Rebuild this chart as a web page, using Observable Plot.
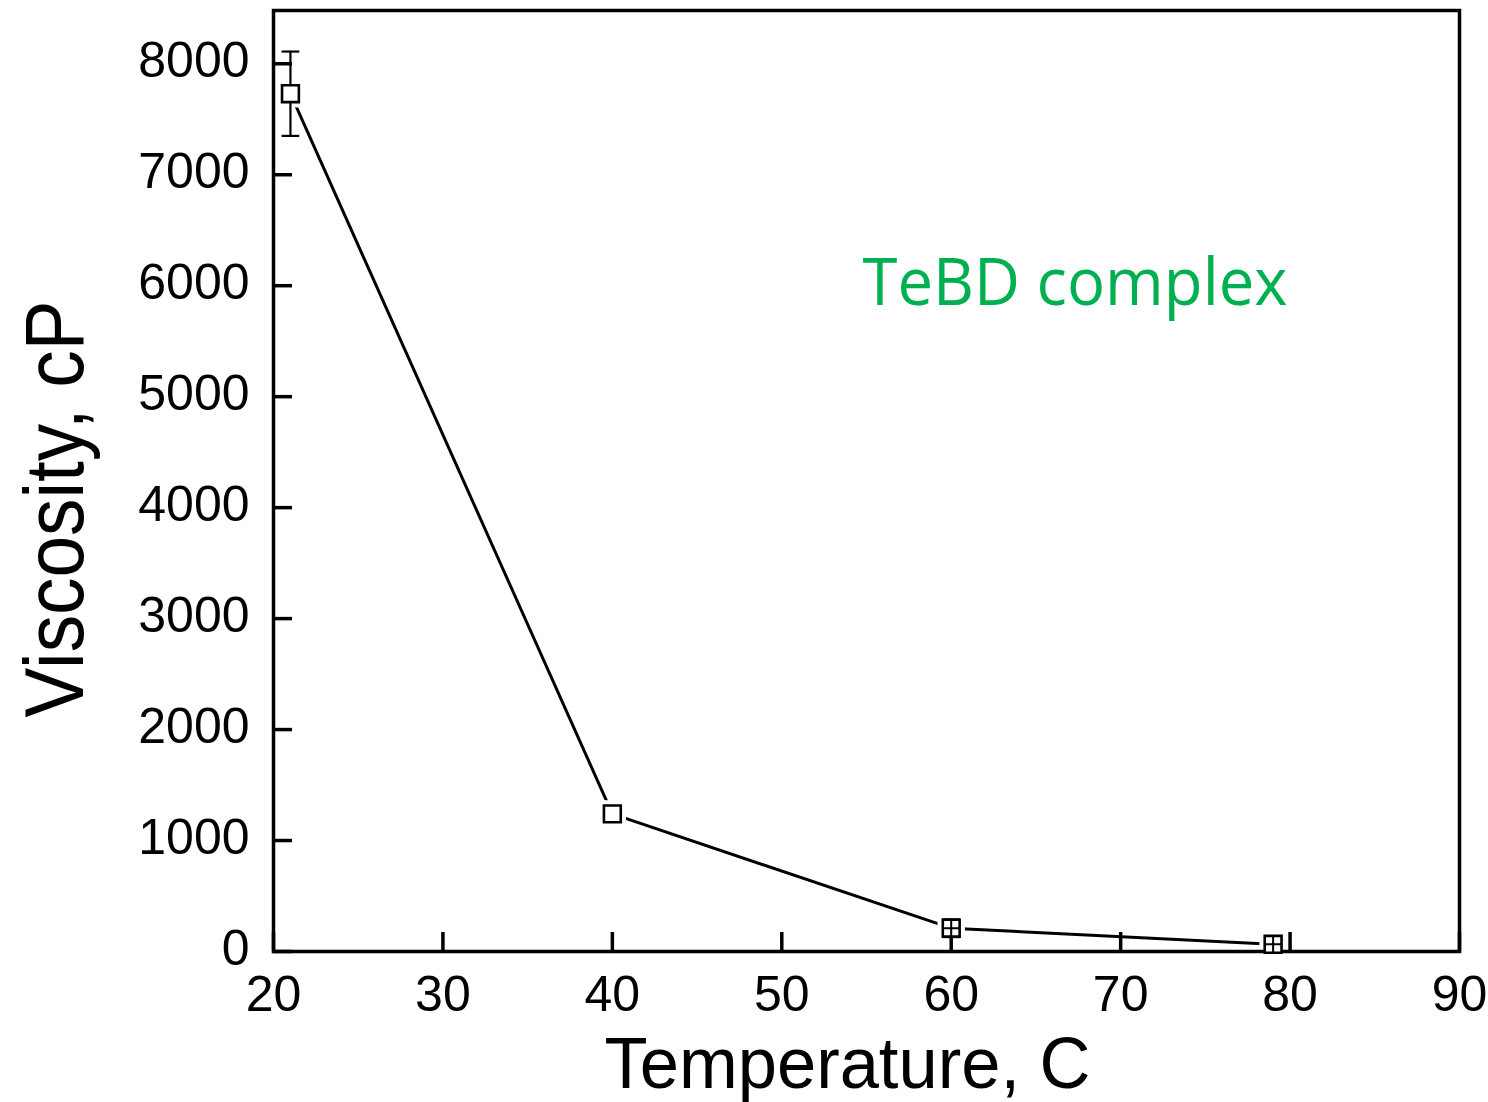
<!DOCTYPE html>
<html><head><meta charset="utf-8">
<script src="https://cdn.jsdelivr.net/npm/d3@7"></script>
<script src="https://cdn.jsdelivr.net/npm/@observablehq/plot@0.6"></script>
<style>html,body{margin:0;padding:0;background:#fff;overflow:hidden}</style>
</head><body><div id="chart"></div>
<script>
// ---- data ----
const temperature = [21, 40, 60, 79];
const viscosity = [7730, 1240, 210, 65];
const viscosityErr = [380, 0, 80, 70];
const xTicks = [20, 30, 40, 50, 60, 70, 80, 90];
const yTicks = [0, 1000, 2000, 3000, 4000, 5000, 6000, 7000, 8000];
const xLabel = "Temperature, C";
const yLabel = "Viscosity, cP";
const annotation = "TeBD complex";

const data = temperature.map((t, i) => ({t, v: viscosity[i], err: viscosityErr[i]}));

const W = 1488, H = 1102, mL = 273, mR = 29, mT = 10, mB = 151;
const plotW = W - mL - mR, plotH = H - mT - mB;

const capSymbol = {draw(ctx, size) { const w = Math.sqrt(size) / 2; ctx.moveTo(-w, 0); ctx.lineTo(w, 0); }};
const crossSymbol = {draw(ctx, size) { const w = Math.sqrt(size) / 2; ctx.moveTo(-w, 0); ctx.lineTo(w, 0); ctx.moveTo(0, -w); ctx.lineTo(0, w); }};
const withErr = data.filter(d => d.err > 0);

const chart = Plot.plot({
  width: W, height: H,
  marginLeft: mL, marginRight: mR, marginTop: mT, marginBottom: mB,
  style: {fontFamily: "'Liberation Sans', Arial, sans-serif", background: "white", color: "black"},
  x: {domain: [20, 90]},
  y: {domain: [0, 8480]},
  marks: [
    Plot.line(data, {x: "t", y: "v", stroke: "black", strokeWidth: 3}),
    Plot.dot(data, {x: "t", y: "v", symbol: "square", r: 15.5, fill: "white", stroke: null}),
    Plot.ruleX(withErr, {x: "t", y1: d => d.v - d.err, y2: d => d.v + d.err, stroke: "black", strokeWidth: 2.2}),
    Plot.dot(withErr, {x: "t", y: d => d.v + d.err, symbol: capSymbol, r: 10, stroke: "black", strokeWidth: 2.2}),
    Plot.dot(withErr, {x: "t", y: d => d.v - d.err, symbol: capSymbol, r: 10, stroke: "black", strokeWidth: 2.2}),
    Plot.tickY(yTicks, {y: d => d, insetRight: plotW - 19, stroke: "black", strokeWidth: 3.5}),
    Plot.tickX(xTicks, {x: d => d, insetTop: plotH - 19, stroke: "black", strokeWidth: 3.5}),
    Plot.frame({stroke: "black", strokeWidth: 3.5}),
    Plot.dot(data, {x: "t", y: "v", symbol: "square", r: 9.5, fill: "white", stroke: "black", strokeWidth: 2.6}),
    Plot.dot(data.filter(d => d.err > 0 && d.err < 100), {x: "t", y: "v", symbol: crossSymbol, r: 9.5, stroke: "black", strokeWidth: 2}),
    Plot.axisX({ticks: xTicks, tickSize: 0, tickPadding: 24, fontSize: 50, tickFormat: d => String(d), label: null}),
    Plot.axisY({ticks: yTicks, tickSize: 0, tickPadding: 24, fontSize: 50, dy: -3, tickFormat: d => String(d), label: null}),
    Plot.text([xLabel], {text: d => d, frameAnchor: "bottom", textAnchor: "middle", lineAnchor: "bottom", dx: -19, dy: 136, fontSize: 72, fill: "black"}),
    Plot.text([yLabel], {text: d => d, frameAnchor: "left", rotate: -90, textAnchor: "middle", lineAnchor: "bottom", dx: -191, dy: 28, fontSize: 84, fill: "black"}),
    Plot.text([annotation], {text: d => d, frameAnchor: "top-left", textAnchor: "start", lineAnchor: "bottom", dx: 589, dy: 294, fontSize: 66, fill: "#00b050", fontFamily: "'Open Sans', Lato, sans-serif"})
  ]
});
document.getElementById("chart").appendChild(chart);

const fit = {[xLabel]: 486, [yLabel]: 417, [annotation]: 425};
d3.select(chart).selectAll("text").each(function() {
  const t = this.textContent;
  if (fit[t]) { this.setAttribute("textLength", fit[t]); this.setAttribute("lengthAdjust", "spacingAndGlyphs"); }
});
</script>
</body></html>
